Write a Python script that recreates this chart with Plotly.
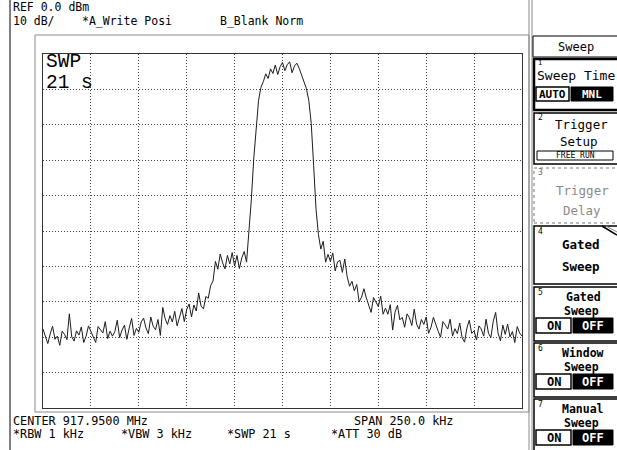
import plotly.graph_objects as go

# ---------------- data ----------------
center_mhz = 917.95
span_mhz = 0.25
ref_dbm = 0.0
db_per_div = 10
n_div_y = 10
n_div_x = 10

level_dbm = [
    -77.7, -80.1, -81.8, -79.1, -76.9, -80.6, -79.7, -82.3, -78.3, -79.2,
    -80.7, -73.4, -79.9, -81.1, -78.2, -79.4, -77.1, -81.5, -79.7, -76.8,
    -78.4, -79.9, -81.5, -77.0, -77.9, -78.8, -75.6, -80.4, -78.3, -79.7,
    -78.4, -75.2, -80.1, -78.0, -76.6, -80.6, -77.4, -74.7, -79.5, -77.5,
    -78.6, -75.7, -74.6, -77.4, -79.0, -74.3, -76.9, -77.9, -75.0, -79.5,
    -71.6, -74.8, -76.4, -73.9, -75.7, -72.7, -76.8, -74.3, -71.9, -75.6,
    -72.2, -70.6, -74.3, -70.9, -72.6, -67.5, -71.2, -72.0, -68.5, -69.0,
    -65.4, -64.1, -58.6, -60.8, -56.5, -59.0, -60.7, -56.9, -59.3, -56.1,
    -59.9, -56.9, -60.6, -57.6, -55.8, -58.8, -50.2, -41.0, -29.5, -19.8,
    -13.1, -9.4, -7.8, -5.6, -6.9, -4.2, -5.5, -3.1, -5.8, -3.6,
    -2.4, -4.7, -3.0, -2.2, -5.3, -3.4, -2.6, -4.1, -5.9, -7.4,
    -9.8, -13.2, -19.6, -31.5, -43.8, -51.0, -55.1, -52.9, -58.8, -56.6,
    -58.6, -56.2, -61.3, -58.7, -58.3, -61.7, -57.9, -62.9, -65.6, -64.2,
    -66.9, -65.1, -70.0, -68.7, -66.3, -68.9, -70.9, -73.0, -68.8, -70.0,
    -71.3, -68.4, -73.5, -71.8, -73.5, -70.8, -78.0, -72.9, -71.0, -75.1,
    -74.4, -77.2, -73.4, -74.5, -76.7, -72.1, -76.3, -77.7, -75.0, -76.4,
    -74.3, -78.9, -77.2, -74.4, -76.7, -78.3, -80.0, -75.6, -76.6, -77.7,
    -74.9, -79.7, -77.6, -79.0, -76.0, -80.1, -81.4, -77.4, -75.2, -78.9,
    -78.2, -80.8, -76.8, -77.7, -79.7, -74.9, -78.9, -80.1, -75.5, -73.0,
    -78.9, -81.0, -76.6, -79.2, -76.3, -79.9, -78.4, -81.5, -77.0, -78.8,
    -79.7,
]

header_left = ["REF 0.0 dBm", "10 dB/"]
trace_labels = ["*A_Write Posi", "B_Blank Norm"]
footer_row1 = ["CENTER 917.9500 MHz", "SPAN 250.0 kHz"]
footer_row2 = ["*RBW 1 kHz", "*VBW 3 kHz", "*SWP 21 s", "*ATT 30 dB"]
swp_label = ["SWP", "21 s"]
menu_title = "Sweep"

n_points = len(level_dbm)
f_start = center_mhz - span_mhz / 2
f_stop = center_mhz + span_mhz / 2
freq_mhz = [f_start + span_mhz * i / (n_points - 1) for i in range(n_points)]

# ---------------- figure ----------------
W, H = 617, 450
def px(x):
    return x / W
def py(y):
    return 1 - y / H

GX0, GX1, GY0, GY1 = 43, 522, 54, 408
MONO = "DejaVu Sans Mono"

fig = go.Figure()
fig.add_trace(go.Scatter(
    x=freq_mhz, y=level_dbm, mode="lines",
    line=dict(color="#1c1c1c", width=1), hoverinfo="skip", showlegend=False,
))

shapes = []
annots = []

def rect(x0, y0, x1, y1, color="black", width=1, fill=None, dash=None):
    d = dict(type="rect", xref="paper", yref="paper",
             x0=px(x0), x1=px(x1), y0=py(y1), y1=py(y0),
             line=dict(color=color, width=width))
    if dash:
        d["line"]["dash"] = dash
    if fill:
        d["fillcolor"] = fill
    shapes.append(d)

def line(x0, y0, x1, y1, color="black", width=1):
    shapes.append(dict(type="line", xref="paper", yref="paper",
                       x0=px(x0), x1=px(x1), y0=py(y0), y1=py(y1),
                       line=dict(color=color, width=width)))

def text(t, x, y, size=12, color="black", anchor="left", family=MONO, bold=False):
    if bold:
        t = "<b>" + t + "</b>"
    annots.append(dict(text=t, xref="paper", yref="paper", x=px(x), y=py(y),
                       xanchor=anchor, yanchor="middle", showarrow=False,
                       font=dict(family=family, size=size, color=color)))

# frames
line(10, 0, 10, 450, "black", 1)
rect(35, 35, 529, 412, "#8a8a8a", 1)
line(529, 0, 529, 450, "#8a8a8a", 1)
line(532, 0, 532, 450, "#8a8a8a", 1)

# header / footer
text(header_left[0], 11, 7, size=11.5)
text(header_left[1], 11, 20.5, size=11.5)
text(trace_labels[0], 80, 20.5, size=11.5)
text(trace_labels[1], 218, 20.5, size=11.5)
text(footer_row1[0], 11, 421, size=11.8)
text(footer_row1[1], 352, 421, size=11.8)
text(footer_row2[0], 11, 434, size=11.8)
text(footer_row2[1], 119, 434, size=11.8)
text(footer_row2[2], 225, 434, size=11.8)
text(footer_row2[3], 329, 434, size=11.8)

# SWP label in graticule
text(swp_label[0], 44, 62, size=19.5, family="Liberation Mono")
text(swp_label[1], 44, 82.5, size=19.5, family="Liberation Mono")

# right menu panel
rect(533, 36, 622, 57, "black", 1)
text(menu_title, 576, 47, size=12, anchor="center")

# box 1
rect(534, 59, 622, 110, "black", 2.5)
text("1", 536, 63, size=7)
text("Sweep Time", 535, 76, size=13)
rect(536, 87, 569, 101, "black", 1.5, fill="white")
text("AUTO", 552.5, 94, size=11, anchor="center", bold=True)
rect(571, 87, 613, 101, "black", 1, fill="black")
text("MNL", 592, 94, size=11, color="white", anchor="center", bold=True)

# box 2
rect(534, 113, 622, 164, "black", 1.5)
text("2", 536, 117, size=8)
text("Trigger", 581, 124, size=12.5, anchor="center")
text("Setup", 579, 141, size=12.5, anchor="center")
rect(537, 151, 613, 160, "black", 1)
text("FREE RUN", 575, 155.5, size=8, anchor="center")

# box 3 (disabled)
rect(534, 168, 622, 223, "#777", 1, dash="dot")
text("3", 536, 172, size=8, color="#666")
text("Trigger", 582, 190, size=12.5, color="#8a8a8a", anchor="center")
text("Delay", 582, 210, size=12.5, color="#8a8a8a", anchor="center")

# box 4 (submenu)
rect(534, 226, 622, 284, "black", 1.5)
line(602, 226, 617, 235, "black", 1.5)
line(606, 226, 617, 232, "#888", 1)
text("4", 536, 231, size=8)
text("Gated", 581, 245, size=12.5, anchor="center", bold=True)
text("Sweep", 581, 266, size=12.5, anchor="center", bold=True)

# boxes 5-7 with ON/OFF
onoff_boxes = [
    ("5", ["Gated", "Sweep"], 287, 341),
    ("6", ["Window", "Sweep"], 343, 397),
    ("7", ["Manual", "Sweep"], 399, 455),
]
for num, words, y0, y1 in onoff_boxes:
    rect(534, y0, 622, y1, "black", 1.5)
    text(num, 536, y0 + 5, size=8)
    text(words[0], 583, y0 + 10, size=11.5, anchor="center", bold=True)
    text(words[1], 581, y0 + 24, size=11.5, anchor="center", bold=True)
    rect(536, y0 + 31, 571, y0 + 46, "black", 1.5, fill="white")
    text("ON", 553.5, y0 + 38.5, size=12, anchor="center", bold=True)
    rect(573, y0 + 31, 613, y0 + 46, "black", 1, fill="black")
    text("OFF", 593, y0 + 38.5, size=12, color="white", anchor="center", bold=True)

fig.update_layout(
    width=W, height=H,
    margin=dict(l=0, r=0, t=0, b=0),
    paper_bgcolor="white", plot_bgcolor="white",
    showlegend=False,
    shapes=shapes, annotations=annots,
    xaxis=dict(domain=[px(GX0), px(GX1)], range=[f_start, f_stop],
               tick0=f_start, dtick=span_mhz / n_div_x,
               showticklabels=False, ticks="", zeroline=False,
               showgrid=True, gridcolor="#444", griddash="1px,2px", gridwidth=1,
               showline=True, mirror=True, linecolor="#333", linewidth=1),
    yaxis=dict(domain=[py(GY1), py(GY0)],
               range=[ref_dbm - db_per_div * n_div_y, ref_dbm],
               tick0=ref_dbm, dtick=db_per_div,
               showticklabels=False, ticks="", zeroline=False,
               showgrid=True, gridcolor="#444", griddash="1px,2px", gridwidth=1,
               showline=True, mirror=True, linecolor="#333", linewidth=1),
)

fig.write_html("out.html", config={"displayModeBar": False},
               post_script="document.body.style.margin='0';")
